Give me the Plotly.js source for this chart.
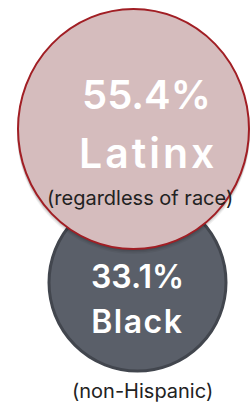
<!DOCTYPE html>
<html>
<head>
<meta charset="utf-8">
<script src="https://cdn.plot.ly/plotly-3.0.1.min.js"></script>
<style>
html,body{margin:0;padding:0;background:#fff;}
#chart{width:250px;height:402px;}
</style>
</head>
<body>
<div id="chart"></div>
<script>
// ---- data ----
const categories = ['Latinx', 'Black'];
const values = [55.4, 33.1];
const notes = ['(regardless of race)', '(non-Hispanic)'];

// ---- layout / style (positions in axis units, axis = pixel frame) ----
const circles = [
  {x0: 18, x1: 249, y0: 9, y1: 249, fill: '#d5bcbd', line: '#a11e24', lw: 2},
  {x0: 49, x1: 226, y0: 194, y1: 371, fill: '#5a5f69', line: '#42464e', lw: 3}
];
const textPos = [
  {x: 146, yv: 94, yc: 153, xn: 140, yn: 198, vs: 40, cs: 41, sp: 3},
  {x: 137, yv: 276, yc: 321, xn: 142, yn: 391, vs: 32, cs: 32, sp: 1.5}
];
const FONT = 'Inter, "Open Sans", sans-serif';

const shapes = [];
const s = circles[1];
shapes.push({type: 'circle', xref: 'x', yref: 'y', x0: s.x0, x1: s.x1, y0: s.y0, y1: s.y1,
  fillcolor: s.fill, line: {color: s.line, width: s.lw}});
const b = circles[0];
[[5, 0.05], [3.5, 0.07], [2, 0.09]].forEach(([o, a]) => {
  shapes.push({type: 'circle', xref: 'x', yref: 'y', x0: b.x0 - 1, x1: b.x1 + 1, y0: b.y0 + o, y1: b.y1 + o,
    fillcolor: 'rgba(0,0,0,' + a + ')', line: {width: 0}});
});
shapes.push({type: 'circle', xref: 'x', yref: 'y', x0: b.x0, x1: b.x1, y0: b.y0, y1: b.y1,
  fillcolor: b.fill, line: {color: b.line, width: b.lw}});

const annotations = [];
const spacing = [];
categories.forEach((c, i) => {
  const p = textPos[i];
  annotations.push({x: p.x, y: p.yv, xref: 'x', yref: 'y', showarrow: false,
    text: values[i].toFixed(1) + '%', font: {family: FONT, size: p.vs, color: '#ffffff', weight: 600}});
  spacing.push(0);
  annotations.push({x: p.x + p.sp / 2, y: p.yc, xref: 'x', yref: 'y', showarrow: false,
    text: c, font: {family: FONT, size: p.cs, color: '#ffffff', weight: 600}});
  spacing.push(p.sp);
  annotations.push({x: p.xn, y: p.yn, xref: 'x', yref: 'y', showarrow: false,
    text: notes[i], font: {family: FONT, size: 20, color: '#222222'}});
  spacing.push(0);
});

const layout = {
  width: 250, height: 402,
  margin: {l: 0, r: 0, t: 0, b: 0},
  paper_bgcolor: '#ffffff', plot_bgcolor: '#ffffff',
  xaxis: {range: [0, 250], visible: false, fixedrange: true},
  yaxis: {range: [402, 0], visible: false, fixedrange: true},
  shapes: shapes,
  annotations: annotations,
  showlegend: false
};
Plotly.newPlot('chart', [{x: [], y: [], type: 'scatter'}], layout, {displayModeBar: false, staticPlot: true})
  .then(gd => {
    gd.querySelectorAll('.annotation').forEach((g, i) => {
      if (spacing[i]) g.querySelectorAll('text').forEach(t => t.style.letterSpacing = spacing[i] + 'px');
    });
  });
</script>
</body>
</html>
